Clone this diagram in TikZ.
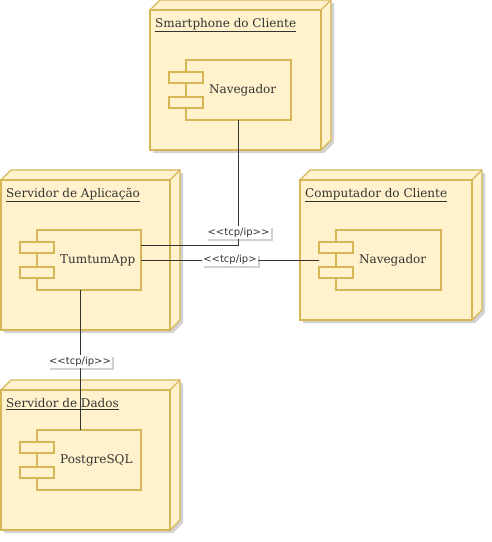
\documentclass[tikz,border=0pt]{standalone}
\usepackage{fontspec}
\setmainfont{DejaVu Serif}
\newfontfamily\labelfont{DejaVu Sans}
\usetikzlibrary{positioning,shadows,backgrounds}

\definecolor{nofill}{HTML}{FFF2CC}
\definecolor{nodraw}{HTML}{D6B656}
\definecolor{linha}{HTML}{333333}

\tikzset{
  face/.style={draw=nodraw, fill=nofill, line width=1.2pt},
  frente/.style={face, anchor=north west, inner sep=0pt, outer sep=0pt},
  titulo/.style={anchor=north west, inner sep=1pt},
  comp/.style={face, anchor=north west, minimum width=104pt, minimum height=60pt,
    inner sep=0pt, outer sep=0pt,
    label={[anchor=west, inner sep=0pt, xshift=23pt]west:#1}},
  conector/.style={draw=linha, line width=1pt},
  tcp/.style={fill=white, inner sep=1.5pt, text=linha,
    font=\labelfont\fontsize{10}{12}\selectfont,
    drop shadow={shadow xshift=2pt, shadow yshift=-2pt, opacity=0.3, fill=black!60}},
  sombra/.style={drop shadow={shadow xshift=3pt, shadow yshift=-3pt, opacity=0.25, fill=black!70}}
}

\begin{document}
\begin{tikzpicture}[x=1pt, y=-1pt, font=\fontsize{12}{14}\selectfont, text=linha]
  \useasboundingbox (0,0) rectangle (492,542);

  % nos de implantacao (face da frente)
  \node[frente, minimum width=171pt, minimum height=140pt] (smart) at (150,10) {};
  \node[frente, minimum width=169pt, minimum height=150pt] (servapp) at (1,180) {};
  \node[frente, minimum width=172pt, minimum height=140pt] (computador) at (300,180) {};
  \node[frente, minimum width=169pt, minimum height=140pt] (servdados) at (1,390) {};

  % faces de cima e do lado
  \begin{scope}[on background layer]
    \foreach \n in {smart,servapp,computador,servdados}
      \draw[face, sombra] (\n.north west) -- ++(10,-10) -- ([shift={(10,-10)}]\n.north east)
        -- ([shift={(10,-10)}]\n.south east) -- (\n.south east) -- (\n.south west) -- cycle;
  \end{scope}
  \foreach \n in {smart,servapp,computador,servdados}
    \draw[face] (\n.north east) -- ++(10,-10);

  \node[titulo] (tsmart) at ([shift={(4,7)}]smart.north west) {\underline{Smartphone do Cliente}};
  \node[titulo] (tservapp) at ([shift={(4,7)}]servapp.north west) {\underline{Servidor de Aplicação}};
  \node[titulo] (tcomputador) at ([shift={(4,7)}]computador.north west) {\underline{Computador do Cliente}};
  \node[titulo] (tservdados) at ([shift={(4,7)}]servdados.north west) {\underline{Servidor de Dados}};

  % componentes
  \node[comp=Navegador, minimum width=105pt] (navS) at (186,60) {};
  \node[comp=TumtumApp] (app) at (37,230) {};
  \node[comp=Navegador, minimum width=105pt] (navC) at (336,230) {};
  \node[comp=PostgreSQL] (pg) at (37,430) {};
  \foreach \c in {navS,app,navC,pg} {
    \draw[face] ([shift={(-17,12)}]\c.north west) rectangle ++(34,11);
    \draw[face] ([shift={(-17,37)}]\c.north west) rectangle ++(34,11);
  }

  % conexoes
  \draw[conector] (navS.south) |- ([yshift=15pt]app.east)
    node[tcp, pos=0.45] {<\kern0pt<tcp/ip>\kern0pt>};
  \draw[conector] (app.east) -- ([xshift=-17pt]navC.west)
    node[tcp, pos=0.5] {<\kern0pt<tcp/ip>};
  \draw[conector] ([xshift=-9pt]app.south) -- ([xshift=-9pt]pg.north)
    node[tcp, pos=0.51] {<\kern0pt<tcp/ip>\kern0pt>};
\end{tikzpicture}
\end{document}
